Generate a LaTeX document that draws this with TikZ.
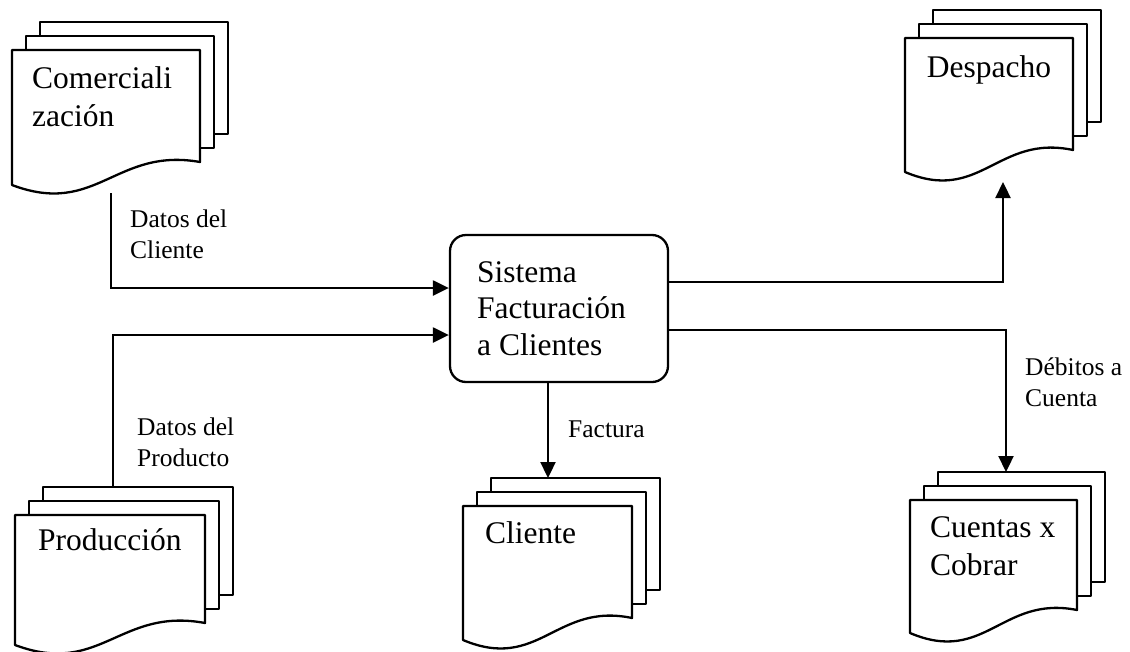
\documentclass[tikz,border=0pt]{standalone}
\usepackage{fontspec}
\setmainfont{Liberation Serif}
\usetikzlibrary{arrows.meta}
\tikzset{
  docline/.style={line width=2.3pt, fill=white, line join=round},
  flow/.style={line width=2.3pt, -{Triangle[length=16pt,width=15pt]}},
  bigtext/.style={font=\fontsize{31.5}{38}\selectfont, inner sep=0pt},
  systext/.style={font=\fontsize{31.5}{36.5}\selectfont, inner sep=0pt},
  smalltext/.style={font=\fontsize{25.5}{31}\selectfont, inner sep=0pt},
  sysbox/.style={draw, line width=2.3pt, rounded corners=16pt, minimum width=218pt, minimum height=147pt, inner sep=0pt}
}
% L, T, R, left bottom, right bottom
\newcommand\docstack[5]{%
  \foreach \k in {2,1}{\filldraw[docline] ({#1+\k*14},{#2-\k*14}) rectangle ({#3+\k*14},{#5-\k*14});}
  \filldraw[docline] (#1,#4) -- (#1,#2) -- (#3,#2) -- (#3,#5) .. controls ({#1+0.55*(#3-#1)},{#4-38}) and ({#1+0.45*(#3-#1)},{#4+32}) .. (#1,#4) -- cycle;}
\newcommand\lns[1]{\begin{tabular}[t]{@{}l@{}}#1\end{tabular}}
\begin{document}
\begin{tikzpicture}[x=1pt,y=-1pt]
\useasboundingbox (0,0) rectangle (1130,651);
% document stacks
\docstack{12}{50}{200}{185}{162}
\docstack{905}{38}{1073}{172}{150}
\docstack{15}{515}{205}{645}{623}
\docstack{463}{506}{632}{640}{618}
\docstack{910}{500}{1077}{633}{610}
\node[bigtext, anchor=base west] (com) at (32,88) {\lns{Comerciali\\zación}};
\node[bigtext, anchor=base] (desp) at (989,77) {Despacho};
\node[bigtext, anchor=base west] (prod) at (38,550) {Producción};
\node[bigtext, anchor=base west] (cli) at (485,543) {Cliente};
\node[bigtext, anchor=base west] (cta) at (930,537) {\lns{Cuentas x\\Cobrar}};
% central system
\node[sysbox] (sys) at (559,308.5) {};
\node[systext, anchor=base west] (systxt) at (477,282) {\lns{Sistema\\Facturación\\a Clientes}};
% connector end points
\coordinate (comOut) at (111,193);
\coordinate (prodOut) at (113,487);
\coordinate (despIn) at (1003,182);
\coordinate (ctaIn) at (1006,472);
\coordinate (cliIn) at (548,478);
% connectors
\draw[flow] (comOut) |- (sys.west |- 0,288);
\draw[flow] (prodOut) |- (sys.west |- 0,335);
\draw[flow] (sys.east |- 0,282) -| (despIn);
\draw[flow] (sys.east |- 0,330) -| (ctaIn);
\draw[flow] (sys.south -| cliIn) -- (cliIn);
% labels
\node[smalltext, anchor=base west] (lblCli) at (130,227) {\lns{Datos del\\Cliente}};
\node[smalltext, anchor=base west] (lblProd) at (137,435) {\lns{Datos del\\Producto}};
\node[smalltext, anchor=base west] (lblFac) at (568,437) {Factura};
\node[smalltext, anchor=base west] (lblDeb) at (1025,375) {\lns{Débitos a\\Cuenta}};
\end{tikzpicture}
\end{document}
